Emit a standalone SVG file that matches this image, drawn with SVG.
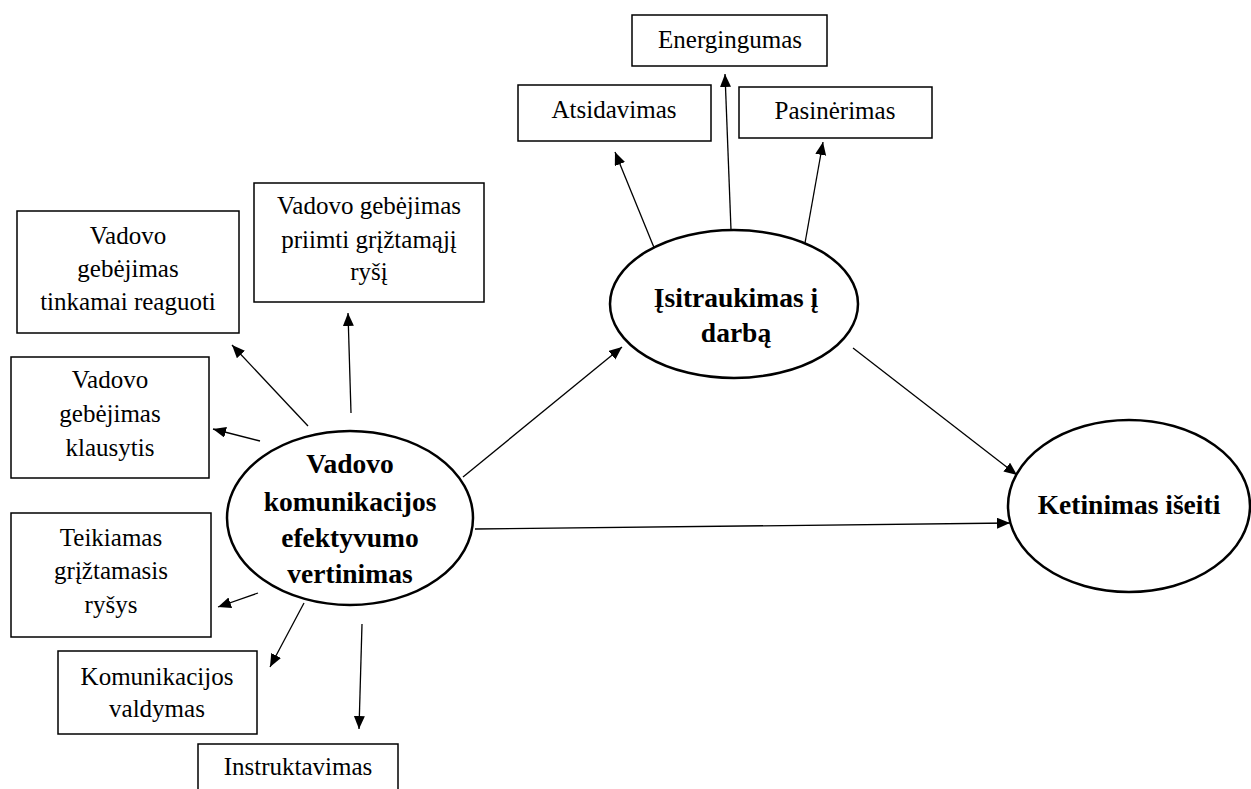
<svg xmlns="http://www.w3.org/2000/svg" width="1251" height="789" viewBox="0 0 1251 789">
<style>
.box{fill:#fff;stroke:#000;stroke-width:1.5}
.ell{fill:#fff;stroke:#000;stroke-width:2.5}
.t{font-family:'Liberation Serif',serif;font-size:25px;text-anchor:middle;fill:#000}
.b{font-family:'Liberation Serif',serif;font-size:27.5px;font-weight:bold;text-anchor:middle;fill:#000}
.c{stroke:#000;stroke-width:1.3;fill:none;marker-end:url(#ah)}
</style>
<defs>
<marker id="ah" markerUnits="userSpaceOnUse" markerWidth="14" markerHeight="12" refX="13" refY="5.5" orient="auto">
<path d="M0,0 L13,5.5 L0,11 Z" fill="#000"/>
</marker>
</defs>
<rect width="1251" height="789" fill="#fff"/>
<g id="connectors">
<line class="c" x1="308" y1="426" x2="232" y2="345"/>
<line class="c" x1="351" y1="413" x2="348" y2="313"/>
<line class="c" x1="260" y1="441" x2="213" y2="429"/>
<line class="c" x1="258" y1="593" x2="218" y2="607"/>
<line class="c" x1="304" y1="603" x2="270" y2="667"/>
<line class="c" x1="362" y1="624" x2="359" y2="729"/>
<line class="c" x1="463" y1="477" x2="622" y2="347"/>
<line class="c" x1="475" y1="529" x2="1010" y2="523"/>
<line class="c" x1="853" y1="348" x2="1017" y2="475"/>
<line class="c" x1="655" y1="250" x2="615" y2="152"/>
<line class="c" x1="731" y1="230" x2="725" y2="74"/>
<line class="c" x1="805" y1="243" x2="823" y2="142"/>
</g>
<g id="n-reaguoti">
<rect class="box" x="17" y="211" width="222" height="122"/>
<text class="t" x="128" y="244">Vadovo</text>
<text class="t" x="128" y="277">gebėjimas</text>
<text class="t" x="128" y="310">tinkamai reaguoti</text>
</g>
<g id="n-priimti">
<rect class="box" x="254" y="183" width="230" height="119"/>
<text class="t" x="369" y="214">Vadovo gebėjimas</text>
<text class="t" x="369" y="248">priimti grįžtamąjį</text>
<text class="t" x="369" y="280">ryšį</text>
</g>
<g id="n-klausytis">
<rect class="box" x="11" y="357" width="198" height="121"/>
<text class="t" x="110" y="388">Vadovo</text>
<text class="t" x="110" y="422">gebėjimas</text>
<text class="t" x="110" y="456">klausytis</text>
</g>
<g id="n-teikiamas">
<rect class="box" x="11" y="513" width="200" height="124"/>
<text class="t" x="111" y="546">Teikiamas</text>
<text class="t" x="111" y="579">grįžtamasis</text>
<text class="t" x="111" y="613">ryšys</text>
</g>
<g id="n-valdymas">
<rect class="box" x="58" y="651" width="199" height="83"/>
<text class="t" x="157" y="685">Komunikacijos</text>
<text class="t" x="157" y="717">valdymas</text>
</g>
<g id="n-instruktavimas">
<rect class="box" x="198" y="744" width="200" height="60"/>
<text class="t" x="298" y="775">Instruktavimas</text>
</g>
<g id="n-energingumas">
<rect class="box" x="632" y="15" width="195" height="51"/>
<text class="t" x="730" y="48">Energingumas</text>
</g>
<g id="n-atsidavimas">
<rect class="box" x="518" y="85" width="193" height="56"/>
<text class="t" x="614" y="118">Atsidavimas</text>
</g>
<g id="n-pasinerimas">
<rect class="box" x="739" y="87" width="193" height="51"/>
<text class="t" x="835" y="119">Pasinėrimas</text>
</g>
<g id="n-vadovo">
<ellipse class="ell" cx="350" cy="518" rx="123" ry="87"/>
<text class="b" x="350" y="473">Vadovo</text>
<text class="b" x="350" y="511">komunikacijos</text>
<text class="b" x="350" y="547">efektyvumo</text>
<text class="b" x="350" y="583">vertinimas</text>
</g>
<g id="n-isitraukimas">
<ellipse class="ell" cx="734" cy="304" rx="124" ry="74"/>
<text class="b" x="736" y="307">Įsitraukimas į</text>
<text class="b" x="736" y="342">darbą</text>
</g>
<g id="n-ketinimas">
<ellipse class="ell" cx="1129" cy="506" rx="121" ry="86"/>
<text class="b" x="1129" y="514">Ketinimas išeiti</text>
</g>
</svg>
